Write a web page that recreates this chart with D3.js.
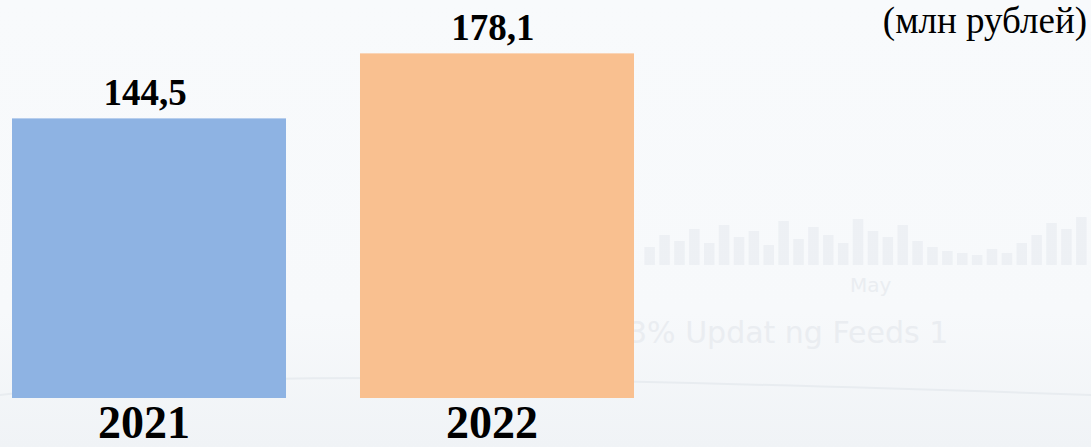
<!DOCTYPE html>
<html>
<head>
<meta charset="utf-8">
<script src="https://cdn.jsdelivr.net/npm/d3@7"></script>
<style>
  html, body { margin: 0; padding: 0; background: #f8fafc; }
  svg { display: block; }
</style>
</head>
<body>
<div id="chart"></div>
<script>
// data
const years = ["2021", "2022"];
const values = [144.5, 178.1];
const valueLabels = ["144,5", "178,1"];
const barColors = ["#8eb3e3", "#f9c090"];
const unitLabel = "(млн рублей)";

// faint background picture (decoration only)
const bgBarHeights = [18, 30, 24, 36, 22, 40, 28, 34, 20, 44, 26, 38, 30, 22, 46, 34, 28, 40, 24, 18, 14, 12, 10, 16, 12, 22, 30, 42, 36, 48];

const W = 1091, H = 447;

const svg = d3.select("#chart")
    .append("svg")
    .attr("width", W)
    .attr("height", H);

// background
const grad = svg.append("defs").append("linearGradient")
    .attr("id", "bg").attr("x1", 0).attr("y1", 0).attr("x2", 0).attr("y2", 1);
grad.append("stop").attr("offset", "0%").attr("stop-color", "#f8fafc");
grad.append("stop").attr("offset", "70%").attr("stop-color", "#f7f9fb");
grad.append("stop").attr("offset", "100%").attr("stop-color", "#f0f3f6");
svg.append("rect").attr("width", W).attr("height", H).attr("fill", "url(#bg)");

// faint bars on the right
const bgX = d3.scaleBand().domain(d3.range(bgBarHeights.length)).range([640, 1091]).padding(0.3);
svg.append("g")
    .selectAll("rect")
    .data(bgBarHeights)
    .enter()
    .append("rect")
    .attr("x", (d, i) => bgX(i))
    .attr("y", d => 265 - d)
    .attr("width", bgX.bandwidth())
    .attr("height", d => d)
    .attr("fill", "#e4e8ed")
    .attr("opacity", 0.5);
svg.append("text").attr("x", 850).attr("y", 292).text("May")
    .style("font-family", "'DejaVu Sans', sans-serif").style("font-size", "20px")
    .attr("fill", "#eaedf1");
svg.append("text").attr("x", 628).attr("y", 343).text("3% Updat ng Feeds  1")
    .style("font-family", "'DejaVu Sans', sans-serif").style("font-size", "30px")
    .attr("fill", "#eaedf1");
svg.append("path")
    .attr("d", "M0,395 C200,370 500,375 1091,395")
    .attr("fill", "none").attr("stroke", "#e8ecf0").attr("stroke-width", 2);

// scales
const x = d3.scaleBand()
    .domain(years)
    .range([12, 634])
    .paddingInner(0.2126)
    .paddingOuter(0);

const y = d3.scaleLinear()
    .domain([0, 200])
    .range([398, 11]);

// bars
svg.append("g")
    .selectAll("rect")
    .data(years)
    .enter()
    .append("rect")
    .attr("x", d => x(d))
    .attr("y", (d, i) => y(values[i]))
    .attr("width", x.bandwidth())
    .attr("height", (d, i) => y(0) - y(values[i]))
    .attr("fill", (d, i) => barColors[i]);

// value labels
svg.append("g")
    .selectAll("text")
    .data(years)
    .enter()
    .append("text")
    .attr("x", d => x(d) + x.bandwidth() / 2 - 4)
    .attr("y", (d, i) => y(values[i]) - 13)
    .attr("text-anchor", "middle")
    .text((d, i) => valueLabels[i])
    .style("font-family", "'Liberation Serif', 'Times New Roman', serif")
    .style("font-size", "37px")
    .style("font-weight", "bold")
    .attr("fill", "#000");

// year labels
svg.append("g")
    .selectAll("text")
    .data(years)
    .enter()
    .append("text")
    .attr("x", d => x(d) + x.bandwidth() / 2 - 5)
    .attr("y", 438)
    .attr("text-anchor", "middle")
    .text(d => d)
    .style("font-family", "'Liberation Serif', 'Times New Roman', serif")
    .style("font-size", "46px")
    .style("font-weight", "bold")
    .attr("fill", "#000");

// unit label
svg.append("text")
    .attr("x", 1087)
    .attr("y", 33)
    .attr("text-anchor", "end")
    .text(unitLabel)
    .style("font-family", "'Liberation Serif', 'Times New Roman', serif")
    .style("font-size", "37px")
    .attr("fill", "#000");
</script>
</body>
</html>
